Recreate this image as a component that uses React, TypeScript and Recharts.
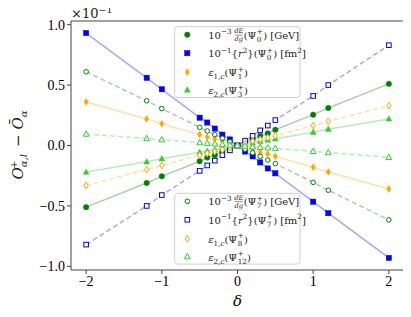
import React from "react";
import { LineChart, Line, XAxis, YAxis, ReferenceLine } from "recharts";

const deltas = [-2, -1.2, -1, -0.5, -0.4, -0.3, -0.2, -0.1, 0, 0.1, 0.2, 0.3, 0.4, 0.5, 1, 1.2, 2];

// filled markers (Psi_0, Psi_0, Psi_1, Psi_3)
const dEdgPsi0 = [-0.51, -0.31, -0.255, -0.13, -0.1, -0.08, -0.05, -0.025, 0, 0.025, 0.05, 0.08, 0.1, 0.13, 0.255, 0.31, 0.51];
const r2Psi0 = [0.93, 0.56, 0.465, 0.23, 0.19, 0.14, 0.09, 0.05, 0, -0.05, -0.09, -0.14, -0.19, -0.23, -0.465, -0.56, -0.93];
const eps1Psi1 = [0.36, 0.22, 0.18, 0.09, 0.07, 0.055, 0.035, 0.02, 0, -0.02, -0.035, -0.055, -0.07, -0.09, -0.18, -0.22, -0.36];
const eps2Psi3 = [-0.22, -0.135, -0.11, -0.055, -0.045, -0.035, -0.02, -0.01, 0, 0.01, 0.02, 0.035, 0.045, 0.055, 0.11, 0.135, 0.22];
// open markers (Psi_7, Psi_7, Psi_8, Psi_12)
const dEdgPsi7 = [0.61, 0.37, 0.305, 0.15, 0.12, 0.09, 0.06, 0.03, 0, -0.03, -0.06, -0.09, -0.12, -0.15, -0.305, -0.37, -0.615];
const r2Psi7 = [-0.82, -0.5, -0.41, -0.21, -0.165, -0.125, -0.08, -0.04, 0, 0.04, 0.08, 0.125, 0.165, 0.21, 0.41, 0.5, 0.83];
const eps1Psi8 = [-0.33, -0.2, -0.165, -0.08, -0.065, -0.05, -0.035, -0.015, 0, 0.015, 0.035, 0.05, 0.065, 0.08, 0.165, 0.2, 0.33];
const eps2Psi12 = [0.095, 0.058, 0.048, 0.024, 0.019, 0.014, 0.01, 0.005, 0, -0.005, -0.01, -0.014, -0.019, -0.024, -0.048, -0.058, -0.098];

const xTicks = [-2, -1, 0, 1, 2];
const yTicks = [-1, -0.5, 0, 0.5, 1];

const data = deltas.map((d, i) => ({
  d,
  a: dEdgPsi0[i],
  b: r2Psi0[i],
  c: eps1Psi1[i],
  e: eps2Psi3[i],
  f: dEdgPsi7[i],
  g: r2Psi7[i],
  h: eps1Psi8[i],
  k: eps2Psi12[i],
}));

const GREEN = "#008000";
const BLUE = "#0000ff";
const ORANGE = "#ffa500";
const LIME = "#32cd32";
const SERIF = "'DejaVu Serif', serif";
const FRAME = "#444";

type Shape = "circle" | "square" | "diamond" | "triangle";

function Marker({ x, y, shape, color, filled }: { x: number; y: number; shape: Shape; color: string; filled: boolean }) {
  const fill = filled ? color : "#fff";
  const sw = filled ? 0.5 : 1;
  if (shape === "circle") return <circle cx={x} cy={y} r={filled ? 2.7 : 2.3} fill={fill} stroke={color} strokeWidth={sw} />;
  if (shape === "square") {
    const s = filled ? 5.2 : 4.6;
    return <rect x={x - s / 2} y={y - s / 2} width={s} height={s} fill={fill} stroke={color} strokeWidth={sw} />;
  }
  if (shape === "diamond")
    return <polygon points={`${x},${y - 3.4} ${x + 2.1},${y} ${x},${y + 3.4} ${x - 2.1},${y}`} fill={fill} stroke={color} strokeWidth={sw} />;
  return <polygon points={`${x},${y - 3.2} ${x + 2.9},${y + 2.2} ${x - 2.9},${y + 2.2}`} fill={fill} stroke={color} strokeWidth={sw} />;
}

const dotFor = (shape: Shape, color: string, filled: boolean) => (p: any) => (
  <Marker key={`${shape}-${filled}-${p.index}`} x={p.cx} y={p.cy} shape={shape} color={color} filled={filled} />
);

type Seg = { t: string; s?: number; o?: number; dx?: number; it?: boolean };

const BASE = 10;
const SM = 7.2;

function MathText({ x, y, segs, base = BASE, anchor = "start" }: { x: number; y: number; segs: Seg[]; base?: number; anchor?: string }) {
  let prev = 0;
  return (
    <text x={x} y={y} fill="#222" textAnchor={anchor as any} style={{ whiteSpace: "pre", fontFamily: SERIF, fontSize: base }}>
      {segs.map((g, i) => {
        const o = g.o ?? 0;
        const dy = o - prev;
        prev = o;
        return (
          <tspan key={i} dy={dy} dx={g.dx} style={{ fontSize: g.s ?? base, fontStyle: g.it ? "italic" : "normal" }}>
            {g.t}
          </tspan>
        );
      })}
    </text>
  );
}

const psi = (sub: string): Seg[] => {
  const subW = sub.length * SM * 0.636;
  const supW = SM * 0.838;
  return [
    { t: "(Ψ" },
    { t: sub, s: SM, o: 3, dx: 0.5 },
    { t: "+", s: SM, o: -4.5, dx: -subW },
    { t: ")", o: 0, dx: Math.max(0, subW - supW) + 0.3 },
  ];
};

const small = { fontFamily: SERIF, fontSize: 6.6, fontStyle: "italic" };

function LegendBox({ x, y, psis }: { x: number; y: number; psis: { filled: boolean; ids: string[] } }) {
  const mx = x + 12.6;
  const tx = x + 33.5;
  const rows = [y + 8, y + 26.5, y + 45.5, y + 63.3];
  const f = psis.filled;
  return (
    <g>
      <rect x={x} y={y} width={125.3} height={70.8} rx={3} fill="#fff" fillOpacity={0.8} stroke="#d0d0d0" strokeWidth={1} />
      <Marker x={mx} y={rows[0]} shape="circle" color={GREEN} filled={f} />
      <Marker x={mx} y={rows[1]} shape="square" color={BLUE} filled={f} />
      <Marker x={mx} y={rows[2]} shape="diamond" color={ORANGE} filled={f} />
      <Marker x={mx} y={rows[3]} shape="triangle" color={LIME} filled={f} />
      {/* row 1: 10^-3 dE/dg (Psi) [GeV] */}
      <MathText x={tx} y={rows[0] + 4} segs={[{ t: "10" }, { t: "−3", s: SM, o: -4.5 }]} />
      <text x={tx + 30.5} y={rows[0] - 1.5} style={small} textAnchor="middle" fill="#222">dE</text>
      <line x1={tx + 26.5} x2={tx + 34.5} y1={rows[0] + 0.4} y2={rows[0] + 0.4} stroke="#222" strokeWidth={0.5} />
      <text x={tx + 30.5} y={rows[0] + 6.5} style={small} textAnchor="middle" fill="#222">dg</text>
      <MathText x={tx + 35.5} y={rows[0] + 4} segs={[...psi(psis.ids[0]), { t: " [GeV]" }]} />
      {/* row 2: 10^-1 {r^2}(Psi) [fm^2] */}
      <MathText
        x={tx}
        y={rows[1] + 4}
        segs={[
          { t: "10" },
          { t: "−1", s: SM, o: -4.5 },
          { t: "{", o: 0 },
          { t: "r", it: true },
          { t: "2", s: SM, o: -4.5 },
          { t: "}", o: 0 },
          ...psi(psis.ids[1]),
          { t: " [fm" },
          { t: "2", s: SM, o: -4.5 },
          { t: "]", o: 0 },
        ]}
      />
      <MathText x={tx} y={rows[2] + 4} segs={[{ t: "ε", it: true }, { t: "1,", s: SM, o: 3 }, { t: "c", s: SM, o: 3, it: true }, ...psi(psis.ids[2])]} />
      <MathText x={tx} y={rows[3] + 4} segs={[{ t: "ε", it: true }, { t: "2,", s: SM, o: 3 }, { t: "c", s: SM, o: 3, it: true }, ...psi(psis.ids[3])]} />
    </g>
  );
}

const fmt = (v: number) => (v < 0 ? "−" + Math.abs(v).toFixed(1) : v.toFixed(1));
const fmtX = (v: number) => (v < 0 ? "−" + Math.abs(v) : String(v));

export default function App() {
  const W = 403;
  const H = 309;
  const line = { strokeOpacity: 0.35, strokeWidth: 1.5, activeDot: false as const, isAnimationActive: false };
  const tickFont = { fontSize: 14, fill: "#000", fontFamily: "'Liberation Serif', serif" };
  return (
    <div style={{ position: "relative", width: W, height: H }}>
      <LineChart width={W} height={H} data={data} margin={{ top: 13, right: 7, left: 0, bottom: 0 }}>
        <XAxis
          dataKey="d"
          type="number"
          domain={[-2.2, 2.2]}
          ticks={xTicks}
          tickFormatter={fmtX}
          allowDataOverflow
          height={47}
          tickSize={4}
          tick={tickFont}
          axisLine={{ stroke: FRAME }}
          tickLine={{ stroke: FRAME }}
        />
        <YAxis
          type="number"
          domain={[-1.03, 1.03]}
          ticks={yTicks}
          tickFormatter={fmt}
          allowDataOverflow
          width={63}
          tickSize={4}
          tick={tickFont}
          axisLine={{ stroke: FRAME }}
          tickLine={{ stroke: FRAME }}
        />
        <ReferenceLine y={1.03} stroke={FRAME} />
        <ReferenceLine x={2.2} stroke={FRAME} />
        <Line dataKey="a" stroke={GREEN} {...line} dot={dotFor("circle", GREEN, true)} />
        <Line dataKey="b" stroke={BLUE} {...line} dot={dotFor("square", BLUE, true)} />
        <Line dataKey="c" stroke={ORANGE} {...line} dot={dotFor("diamond", ORANGE, true)} />
        <Line dataKey="e" stroke={LIME} {...line} dot={dotFor("triangle", LIME, true)} />
        <Line dataKey="f" stroke={GREEN} {...line} strokeDasharray="5 3" dot={dotFor("circle", GREEN, false)} />
        <Line dataKey="g" stroke={BLUE} {...line} strokeDasharray="5 3" dot={dotFor("square", BLUE, false)} />
        <Line dataKey="h" stroke={ORANGE} {...line} strokeDasharray="5 3" dot={dotFor("diamond", ORANGE, false)} />
        <Line dataKey="k" stroke={LIME} {...line} strokeDasharray="5 3" dot={dotFor("triangle", LIME, false)} />
      </LineChart>
      <svg width={W} height={H} style={{ position: "absolute", left: 0, top: 0, pointerEvents: "none", overflow: "visible" }}>
        <LegendBox x={166.7} y={18.7} psis={{ filled: true, ids: ["0", "0", "1", "3"] }} />
        <LegendBox x={166.7} y={185.3} psis={{ filled: false, ids: ["7", "7", "8", "12"] }} />
        <MathText x={63} y={10} base={13} segs={[{ t: "×10" }, { t: "−1", s: 9.5, o: -5.5 }]} />
        <text x={229.5} y={298} style={{ fontSize: 15, fontStyle: "italic", fontFamily: SERIF }} textAnchor="middle">δ</text>
        <g transform="translate(15,137) rotate(-90)">
          <MathText
            x={0}
            y={0}
            base={15}
            anchor="middle"
            segs={[
              { t: "O", it: true },
              { t: "α,l", s: 10, o: 4, it: true },
              { t: "+", s: 10, o: -6.5, dx: -15 },
              { t: " − ", o: 0, dx: 9 },
              { t: "Ō", it: true },
              { t: "α", s: 10, o: 4, it: true },
            ]}
          />
        </g>
      </svg>
    </div>
  );
}
